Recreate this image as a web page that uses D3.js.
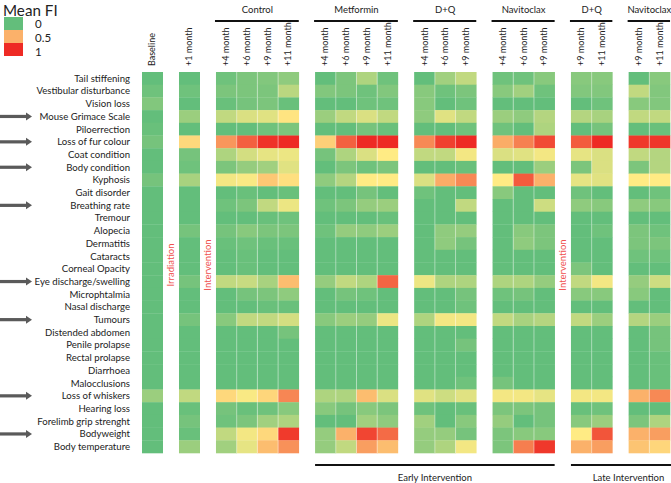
<!DOCTYPE html>
<html><head><meta charset="utf-8">
<script src="https://cdn.jsdelivr.net/npm/d3@7"></script>
<style>
body{margin:0;background:#fff;}
svg{display:block;font-family:Lato, "Open Sans", sans-serif;}
</style></head>
<body><svg id="chart" width="671" height="483"></svg>
<script>
const features = ["Tail stiffening","Vestibular disturbance","Vision loss","Mouse Grimace Scale","Piloerrection","Loss of fur colour","Coat condition","Body condition","Kyphosis","Gait disorder","Breathing rate","Tremour","Alopecia","Dermatitis","Cataracts","Corneal Opacity","Eye discharge/swelling","Microphtalmia","Nasal discharge","Tumours","Distended abdomen","Penile prolapse","Rectal prolapse","Diarrhoea","Malocclusions","Loss of whiskers","Hearing loss","Forelimb grip strenght","Bodyweight","Body temperature"];
const arrowFeatures = ["Mouse Grimace Scale","Loss of fur colour","Body condition","Breathing rate","Eye discharge/swelling","Tumours","Loss of whiskers","Bodyweight"];
const groupNames = ["", "", "Control", "Metformin", "D+Q", "Navitoclax", "D+Q", "Navitoclax"];
const groupColumns = [["Baseline"],["+1 month"],["+4 month","+6 month","+9 month","+11 month"],["+4 month","+6 month","+9 month","+11 month"],["+4 month","+6 month","+9 month"],["+4 month","+6 month","+9 month"],["+9 month","+11 month"],["+9 month","+11 month"]];
const phaseLabels = ["Early Intervention", "Late Intervention"];
const legendValues = [0, 0.5, 1];
// columns: B, +1, C4,C6,C9,C11, M4,M6,M9,M11, DQ4,DQ6,DQ9, N4,N6,N9, LDQ9,LDQ11, LN9,LN11
const meanFI = [
 [0,0,.02,.04,.05,.07,0,.04,.12,.02,0,.10,.15,.02,.02,.06,.06,.06,0,.06],
 [.02,.02,.04,.04,.04,.14,.05,.04,.02,.05,.06,.02,.04,.06,.10,.02,.05,.05,.15,.05],
 [.05,0,.01,.03,.04,.01,0,0,.02,.02,.06,0,.02,0,0,0,0,.02,.06,.05],
 [0,.09,.15,.19,.2,.28,.09,.15,.19,.15,.07,.2,.15,.09,.07,.13,.13,.11,.15,.15],
 [.01,0,0,0,.02,.04,0,0,.03,.01,0,0,.02,.02,0,.12,0,.03,0,.01],
 [.03,.33,.6,.8,.97,1,.37,.8,1,1,.65,.92,1,.52,.68,.88,.82,1,.95,.96],
 [0,.03,.12,.18,.21,.22,.03,.12,.19,.25,.15,.15,.23,.19,.2,.23,.21,.19,.15,.13],
 [0,.02,.04,.08,.1,.2,0,.04,.02,.04,0,0,.01,0,0,.09,.04,.19,.04,.13],
 [.03,.11,.23,.24,.4,.3,.07,.13,.25,.25,.19,.52,.65,.25,.82,.5,.21,.2,.25,.25],
 [0,0,0,.01,0,.01,0,0,.03,0,.02,0,0,.06,0,0,.02,0,0,.02],
 [0,0,.02,.04,.15,.22,.02,.04,.08,.09,0,0,.15,0,0,.17,.07,.06,.07,.06],
 [0,0,0,0,.01,.02,0,0,0,.01,0,0,0,0,0,0,0,0,0,0],
 [0,.03,.03,.06,.04,.04,.02,.08,.07,.09,0,.07,.08,0,.06,.04,0,.02,.04,.02],
 [0,0,.01,.02,.01,.01,0,0,0,0,0,.07,.03,0,.07,.04,0,0,.04,.04],
 [0,0,0,.01,0,0,0,0,0,0,0,0,0,0,0,0,0,0,.02,.02],
 [0,0,0,.01,0,0,0,0,0,0,0,0,0,0,0,0,.04,0,0,0],
 [0,.03,.15,.16,.11,.45,.08,.15,.12,.78,.22,.12,.12,.12,.12,.08,.15,.23,.08,.17],
 [0,0,0,.03,.04,.07,0,.03,.02,0,0,0,.03,.02,.03,0,.06,.06,.06,0],
 [0,0,0,0,.01,.01,0,0,0,0,0,0,.02,0,0,0,0,0,0,0],
 [0,.03,.06,.15,.15,.18,.06,.09,.08,.22,.12,.23,.23,.15,.11,.13,.15,.09,.13,.09],
 [0,0,0,0,0,.03,0,0,0,0,0,0,0,0,0,0,0,0,0,.03],
 [0,0,0,0,0,0,0,0,0,0,0,0,.03,0,0,0,0,0,0,.03],
 [0,0,0,0,0,0,0,0,0,0,0,0,0,0,0,0,0,0,0,.01],
 [0,0,0,0,0,0,0,0,0,0,0,0,0,0,0,0,0,0,0,.01],
 [0,0,0,0,0,0,0,0,0,0,0,0,.02,.03,0,0,0,0,0,.01],
 [.09,.15,.33,.24,.34,.66,.12,.12,.45,.19,.2,.17,.2,.23,.23,.21,.23,.23,.5,.65],
 [0,.01,.03,.01,.02,.06,.06,.03,.06,.04,.02,0,.01,.04,.04,.03,.01,.02,0,0],
 [0,.03,.02,.04,.1,.12,0,0,.1,.07,.1,0,.06,.08,0,.03,.06,.09,.04,.12],
 [0,.01,.15,.23,.33,.94,.08,.5,.9,.76,.08,.08,.03,.04,.06,.06,.25,.84,.5,.57],
 [0,.09,.1,.21,.45,.62,.08,.15,.57,.45,.08,.12,.23,.04,.69,.95,.5,.57,.42,.34]
];

const svg = d3.select("#chart");
const color = d3.scaleLinear().domain([0, .25, .5, 1]).range(["#63be7b", "#ffeb84", "#fbb16a", "#ee2a24"]);

// slot layout (column units, with gaps between groups)
const gapUnits = 0.787;
const colsFlat = [];
const groups = [];
let pos = 0;
groupColumns.forEach((cols, gi) => {
  const start = pos;
  cols.forEach(c => { colsFlat.push({label: c, slot: pos, group: gi}); pos += 1; });
  groups.push({name: groupNames[gi], start, end: pos});
  pos += gapUnits;
});
const x = d3.scaleLinear().domain([0, 1]).range([142, 162.7]);
const y = d3.scaleBand().domain(features).range([72, 453]);

// cells
const cells = [];
meanFI.forEach((row, ri) => row.forEach((v, ci) => cells.push({f: features[ri], c: colsFlat[ci], v})));
svg.append("g").selectAll("rect").data(cells).join("rect")
  .attr("x", d => x(d.c.slot)).attr("y", d => y(d.f))
  .attr("width", x(1) - x(0) + 0.3).attr("height", y.bandwidth() + 0.3)
  .attr("fill", d => color(d.v));

// faint column separators inside groups
const seps = colsFlat.filter((c, i) => i > 0 && colsFlat[i-1].group === c.group);
svg.append("g").selectAll("line").data(seps).join("line")
  .attr("x1", d => x(d.slot)).attr("x2", d => x(d.slot))
  .attr("y1", y.range()[0]).attr("y2", y.range()[1])
  .attr("stroke", "#fff").attr("stroke-opacity", 0.45).attr("stroke-width", 1);

// row labels
svg.append("g").selectAll("text").data(features).join("text")
  .attr("x", 130).attr("y", d => y(d) + y.bandwidth()/2)
  .attr("dy", "0.35em").attr("text-anchor", "end")
  .attr("font-size", 9.6).attr("fill", "#222").text(d => d);

// arrows
const ag = svg.append("g").selectAll("g").data(arrowFeatures).join("g")
  .attr("transform", d => `translate(0,${y(d) + y.bandwidth()/2})`);
ag.append("rect").attr("x", 0).attr("y", -1.6).attr("width", 27).attr("height", 3.2).attr("fill", "#5a5a5a");
ag.append("path").attr("d", "M26,-4L32,0L26,4Z").attr("fill", "#5a5a5a");

// column labels
svg.append("g").selectAll("text").data(colsFlat).join("text")
  .attr("transform", d => `translate(${x(d.slot + 0.5) + 3},66) rotate(-90)`)
  .attr("font-size", 9).attr("fill", "#222").text(d => d.label);

// group headers
const named = groups.filter(g => g.name);
svg.append("g").selectAll("text").data(named).join("text")
  .attr("x", d => (x(d.start) + x(d.end))/2).attr("y", 13)
  .attr("text-anchor", "middle").attr("font-size", 9.5).attr("fill", "#222").text(d => d.name);
svg.append("g").selectAll("line").data(named).join("line")
  .attr("x1", d => x(d.start) - 1).attr("x2", d => x(d.end))
  .attr("y1", 21).attr("y2", 21).attr("stroke", "#111").attr("stroke-width", 2);

// red vertical annotations
const ann = [
  {t: "Irradiation", s: (groups[0].end + groups[1].start)/2},
  {t: "Intervention", s: (groups[1].end + groups[2].start)/2},
  {t: "Intervention", s: (groups[5].end + groups[6].start)/2}
];
svg.append("g").selectAll("text").data(ann).join("text")
  .attr("transform", d => `translate(${x(d.s) + 3},265) rotate(-90)`)
  .attr("text-anchor", "middle").attr("font-size", 9.5).attr("fill", "#f0504e").text(d => d.t);

// phase brackets
const phases = [
  {t: phaseLabels[0], x1: x(groups[3].start), x2: x(groups[5].end), tx: (x(groups[3].start) + x(groups[5].end))/2},
  {t: phaseLabels[1], x1: x(groups[6].start), x2: 690, tx: (x(groups[6].start) + x(groups[7].end))/2 + 8}
];
svg.append("g").selectAll("line").data(phases).join("line")
  .attr("x1", d => d.x1).attr("x2", d => d.x2).attr("y1", 465).attr("y2", 465)
  .attr("stroke", "#111").attr("stroke-width", 2);
svg.append("g").selectAll("text").data(phases).join("text")
  .attr("x", d => d.tx).attr("y", 481).attr("text-anchor", "middle")
  .attr("font-size", 9.5).attr("fill", "#222").text(d => d.t);

// legend
svg.append("text").attr("x", 3).attr("y", 15.5).attr("font-size", 15.2).attr("fill", "#222").text("Mean FI");
const ly = d3.scaleBand().domain(legendValues).range([17, 56]);
svg.append("g").selectAll("rect").data(legendValues).join("rect")
  .attr("x", 4).attr("y", d => ly(d)).attr("width", 19).attr("height", ly.bandwidth())
  .attr("fill", d => color(d));
svg.append("g").selectAll("text").data(legendValues).join("text")
  .attr("x", 35).attr("y", (d, i) => 24 + i * 14).attr("dy", "0.35em")
  .attr("font-size", 11.5).attr("fill", "#222").text(d => d);
</script></body></html>
